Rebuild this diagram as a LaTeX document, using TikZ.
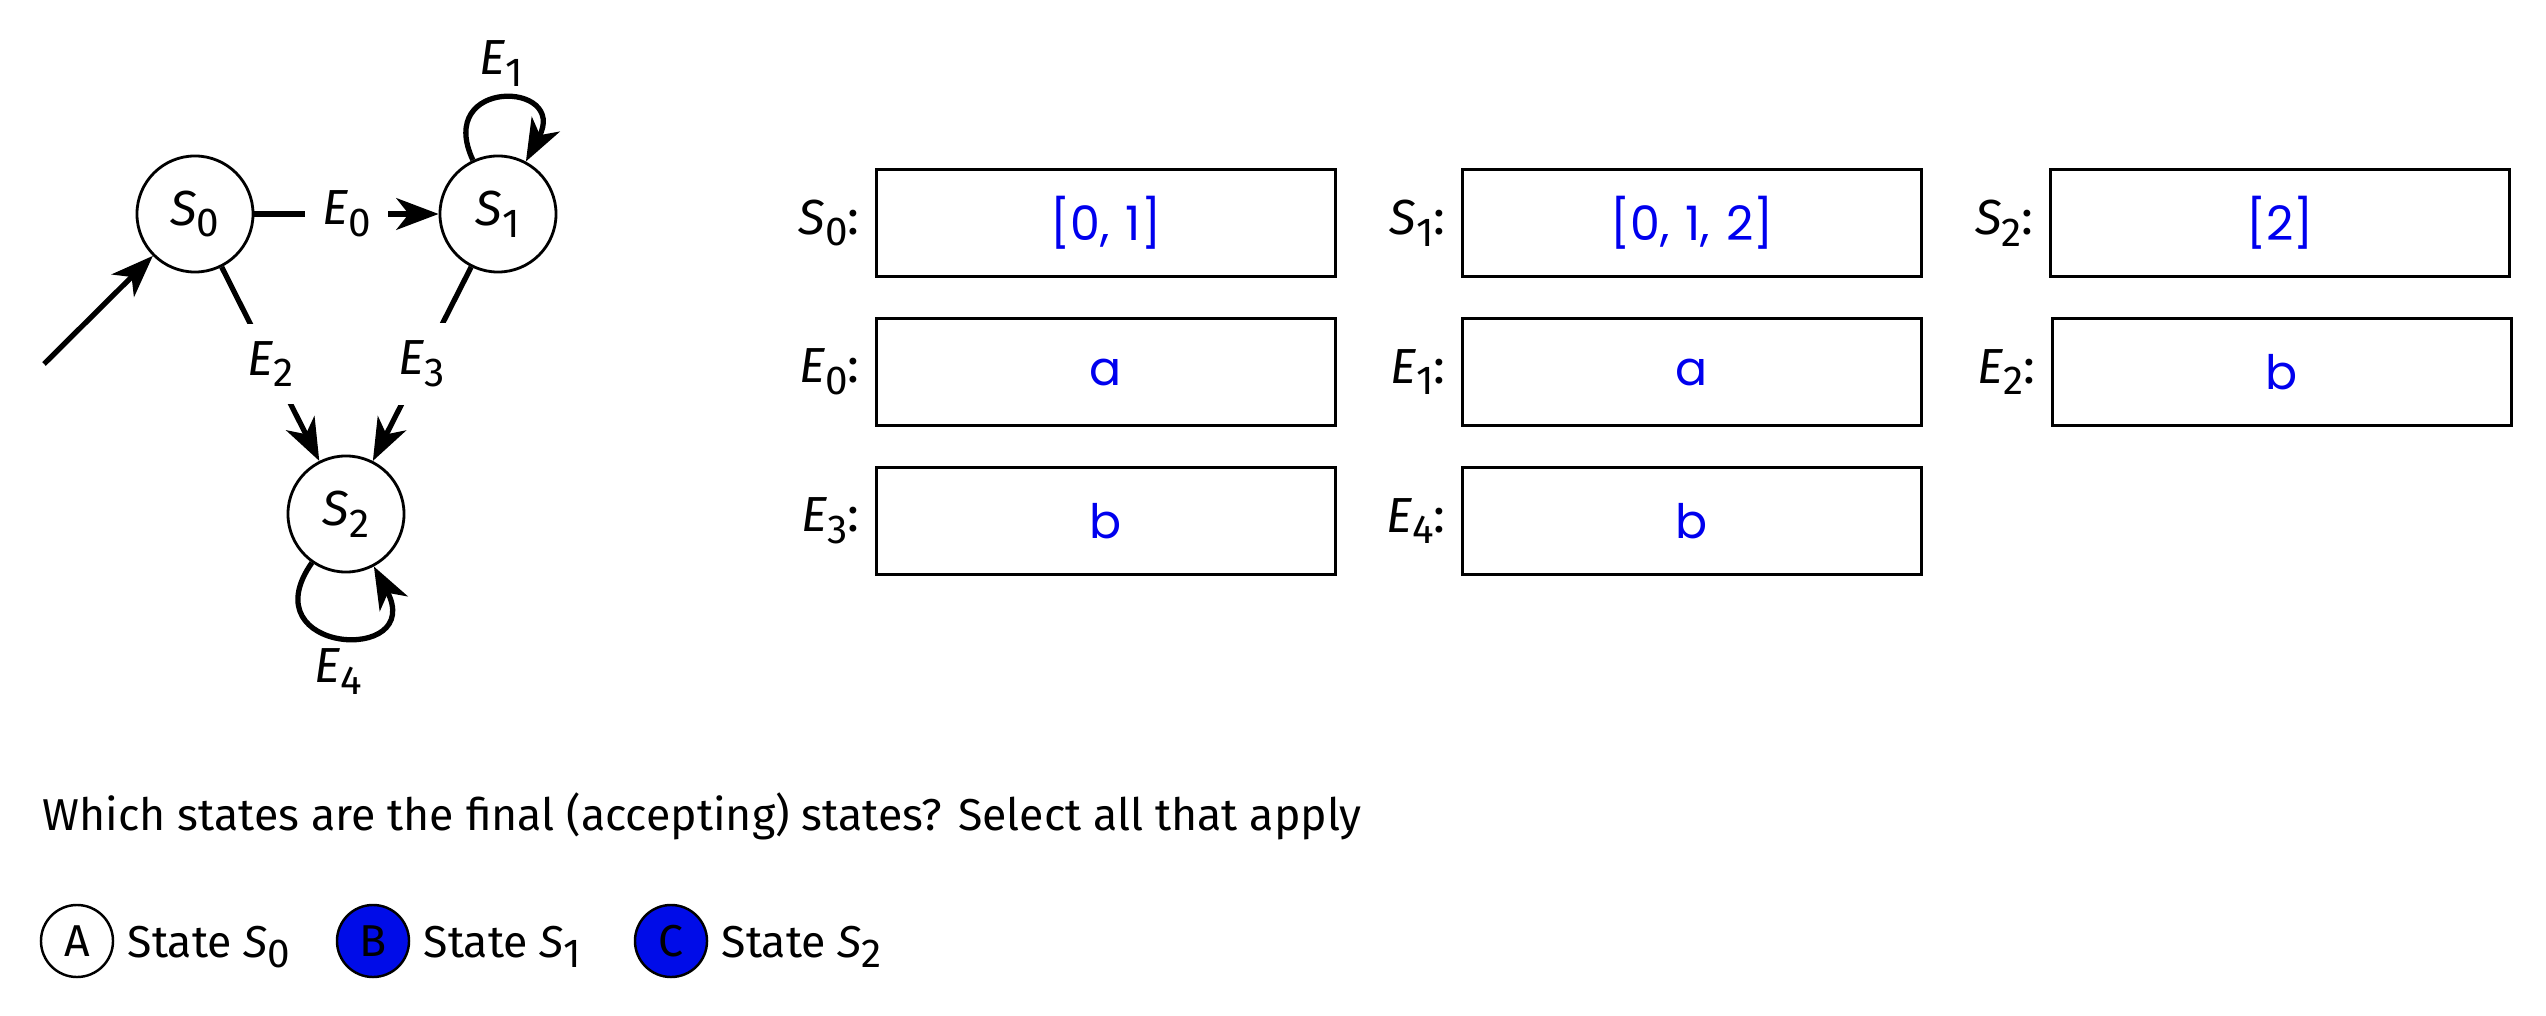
\documentclass[tikz,border=0pt]{standalone}
\usepackage{fontspec}
\setmainfont{Fira Sans}
\newfontfamily\valfont{Poppins}
\usetikzlibrary{arrows.meta,positioning}
\definecolor{valblue}{RGB}{0,0,238}
\definecolor{optblue}{RGB}{0,12,232}
\newcommand{\lbl}[2]{\textit{#1}\raisebox{-0.45ex}{\fontsize{11.5}{12}\selectfont #2}}

\begin{document}
\begin{tikzpicture}[x=0.01cm,y=-0.01cm,
>={Stealth[length=12pt,width=9pt,inset=3.5pt]},
every node/.style={font=\fontsize{12.7}{15}\selectfont},
state/.style={circle, draw=black, line width=0.8pt, minimum size=1.16cm, inner sep=0pt,
    font=\fontsize{14}{16}\selectfont},
trans/.style={->, line width=1.5pt},
elabel/.style={fill=white, inner sep=5pt, font=\fontsize{14}{16}\selectfont},
valbox/.style={draw=black, line width=0.9pt, minimum width=4.58cm, minimum height=1.07cm,
    inner sep=0pt, text=valblue, font=\valfont\fontsize{13.5}{15}\selectfont},
boxlabel/.style={left=0.15cm of #1, inner sep=0pt, font=\fontsize{14}{16}\selectfont},
opt/.style={circle, draw=black, line width=0.7pt, minimum size=0.72cm, inner sep=0pt}]
\useasboundingbox (0,0) rectangle (2546,1016);

% automaton
\node[state] (s0) at (195,214) {\lbl{S}{0}};
\node[state] (s1) at (498,214) {\lbl{S}{1}};
\node[state] (s2) at (346,514) {\lbl{S}{2}};
\coordinate (init) at (44,364);

\draw[trans] (init) -- (s0);
\draw[trans] (s0) -- node[elabel] {\lbl{E}{0}} (s1);
\draw[trans] (s0) -- node[elabel] {\lbl{E}{2}} (s2);
\draw[trans] (s1) -- node[elabel] {\lbl{E}{3}} (s2);
\draw[trans] (s1) to[out=115,in=62,looseness=4.4] node[above, elabel, fill=none, inner sep=3pt] {\lbl{E}{1}} (s1);
\draw[trans] (s2) to[out=235,in=298,looseness=4.6] node[below, elabel, fill=none, inner sep=3pt] {\lbl{E}{4}} (s2);

% answer boxes
\node[valbox] (vs0) at (1106,223) {[0,\,\,1]};
\node[valbox] (vs1) at (1692,223) {[0,\,\,1,\,\,2]};
\node[valbox] (vs2) at (2280,223) {[2]};
\node[valbox] (ve0) at (1106,372) {a};
\node[valbox] (ve1) at (1692,372) {a};
\node[valbox] (ve2) at (2282,372) {b};
\node[valbox] (ve3) at (1106,521) {b};
\node[valbox] (ve4) at (1692,521) {b};

\node[boxlabel=vs0] (ls0) {\lbl{S}{0}:};
\node[boxlabel=vs1] (ls1) {\lbl{S}{1}:};
\node[boxlabel=vs2] (ls2) {\lbl{S}{2}:};
\node[boxlabel=ve0] (le0) {\lbl{E}{0}:};
\node[boxlabel=ve1] (le1) {\lbl{E}{1}:};
\node[boxlabel=ve2] (le2) {\lbl{E}{2}:};
\node[boxlabel=ve3] (le3) {\lbl{E}{3}:};
\node[boxlabel=ve4] (le4) {\lbl{E}{4}:};

% question
\node[anchor=base west, inner sep=0pt] (question) at (42,830)
    {Which states are the final (accepting) states? Select all that apply};

\node[opt] (opta) at (77,941) {A};
\node[anchor=base west, inner sep=0pt] (texta) at (127,957) {State \lbl{S}{0}};
\node[opt, fill=optblue] (optb) at (373,941) {B};
\node[anchor=base west, inner sep=0pt] (textb) at (423,957) {State \lbl{S}{1}};
\node[opt, fill=optblue] (optc) at (671,941) {C};
\node[anchor=base west, inner sep=0pt] (textc) at (721,957) {State \lbl{S}{2}};
\end{tikzpicture}
\end{document}
